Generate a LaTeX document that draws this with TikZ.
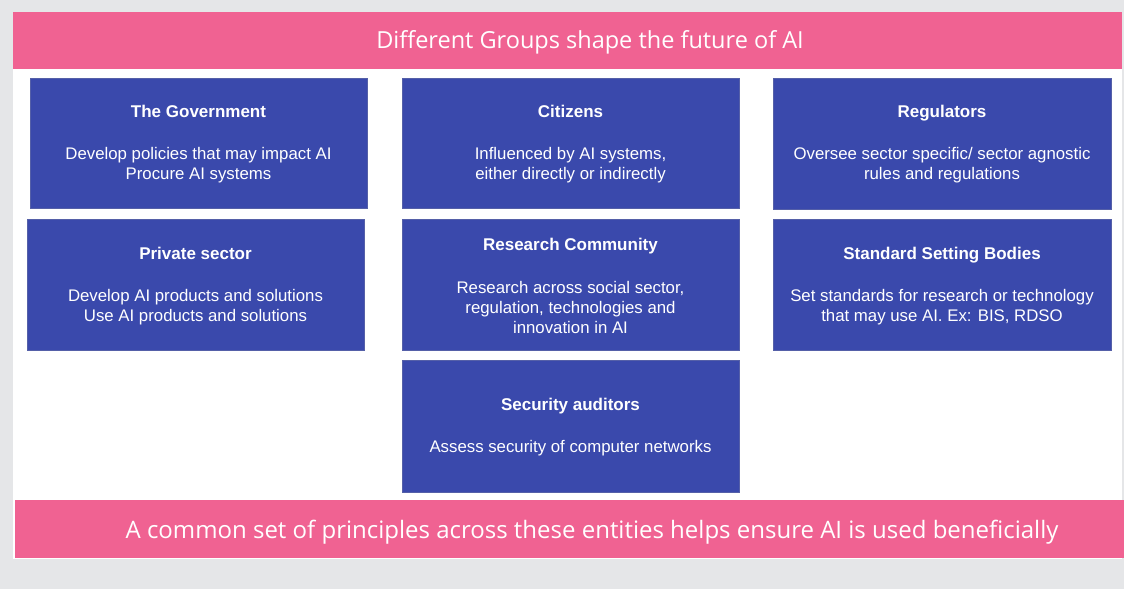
\documentclass[tikz,border=0pt]{standalone}
\usepackage{fontspec}
\setmainfont{Liberation Sans}
\newfontfamily\bandfont{Open Sans}
\definecolor{pagegray}{HTML}{E5E6E8}
\definecolor{bandpink}{HTML}{F06292}
\definecolor{boxblue}{HTML}{3A49AC}
\definecolor{boxedge}{HTML}{5560A8}
\tikzset{
  band/.style={fill=bandpink, draw=none},
  bandtext/.style={text=white, anchor=base, inner sep=0pt,
    font=\bandfont\fontsize{23.5}{28}\selectfont},
  groupbox/.style={fill=boxblue, draw=boxedge, line width=0.8pt},
  grouptext/.style={text=white, align=center, inner sep=0pt,
    font=\fontsize{16.8}{20}\selectfont},
}
\newcommand{\grouptitle}[1]{{\bfseries\fontsize{17}{20}\selectfont #1}\\[22.3pt]}
\begin{document}
\begin{tikzpicture}[x=1pt,y=-1pt]
  \useasboundingbox (0,0) rectangle (1124,589);
  % page and panel
  \fill[pagegray] (0,0) rectangle (1124,589);
  \fill[white] (13,12) rectangle (1122,559);
  % header and footer bands
  \path[band] (13,12) rectangle (1122,69);
  \node[bandtext] (title) at (590,48) {Different Groups shape the future of AI};
  \path[band] (15,500) rectangle (1124,558);
  \node[bandtext, font=\bandfont\fontsize{24}{28}\selectfont] (footer) at (592,538)
    {A common set of principles across these entities helps ensure AI is used beneficially};
  % group boxes
  \draw[groupbox] (30,78) rectangle (367,208);
  \node[grouptext] (gov) at (198.5,144) {\grouptitle{The Government}Develop policies that may impact AI\\Procure AI systems};
  \draw[groupbox] (402,78) rectangle (739,208);
  \node[grouptext] (cit) at (570.5,144) {\grouptitle{Citizens}Influenced by AI systems,\\either directly or indirectly};
  \draw[groupbox] (773,78) rectangle (1111,209);
  \node[grouptext] (reg) at (942,144) {\grouptitle{Regulators}Oversee sector specific/ sector agnostic\\rules and regulations};
  \draw[groupbox] (27,219) rectangle (364,350);
  \node[grouptext] (priv) at (195.5,286) {\grouptitle{Private sector}Develop AI products and solutions\\Use AI products and solutions};
  \draw[groupbox] (402,219) rectangle (739,350);
  \node[grouptext] (res) at (570.5,286) {\grouptitle{Research Community}Research across social sector,\\regulation, technologies and\\innovation in AI};
  \draw[groupbox] (773,219) rectangle (1111,350);
  \node[grouptext] (std) at (942,286) {\grouptitle{Standard Setting Bodies}Set standards for research or technology\\that may use AI. Ex: BIS, RDSO};
  \draw[groupbox] (402,360) rectangle (739,492);
  \node[grouptext] (sec) at (570.5,427) {\grouptitle{Security auditors}Assess security of computer networks};
\end{tikzpicture}
\end{document}
